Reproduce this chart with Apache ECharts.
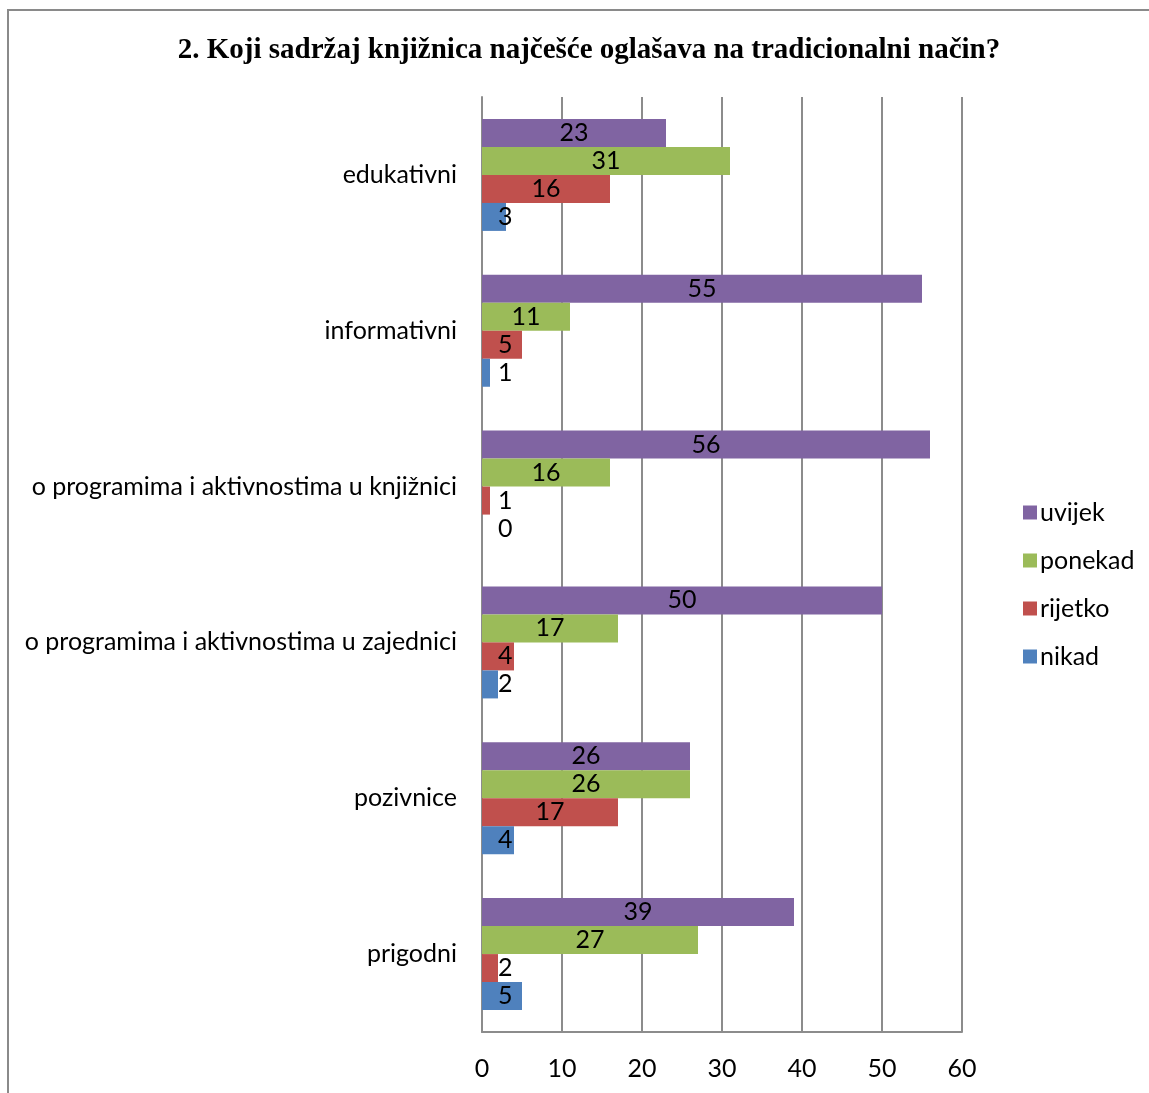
<!DOCTYPE html>
<html><head><meta charset="utf-8">
<script src="https://cdn.jsdelivr.net/npm/echarts@6/dist/echarts.min.js"></script>
<style>html,body{margin:0;padding:0;background:#fff}#c{width:1149px;height:1093px}</style>
</head><body><div id="c"></div>
<script>
var categories = ['edukativni','informativni','o programima i aktivnostima u knjižnici','o programima i aktivnostima u zajednici','pozivnice','prigodni'];
var seriesNames = ['uvijek','ponekad','rijetko','nikad'];
var uvijek = [23,55,56,50,26,39];
var ponekad = [31,11,16,17,26,27];
var rijetko = [16,5,1,4,17,2];
var nikad = [3,1,0,2,4,5];
var xTicks = [0,10,20,30,40,50,60];
var colors = ['#8064A2','#9BBB59','#C0504D','#4F81BD'];
var FONT = 'Lato';
var FS = 25;
function items(arr){
  return arr.map(function(v){
    if (v <= 5) return {value: v, label: {position: 'insideLeft', distance: 16}};
    return {value: v};
  });
}
var chart = echarts.init(document.getElementById('c'));
var data = [uvijek, ponekad, rijetko, nikad];
chart.setOption({
  animation: false,
  title: {text: '2. Koji sadržaj knjižnica najčešće oglašava na tradicionalni način?', left: 584, textAlign: 'center', top: 31,
    textStyle: {fontFamily: 'Liberation Serif', fontWeight: 'bold', fontSize: 29, color: '#000'}},
  graphic: [{type: 'rect', shape: {x: 8, y: 10, width: 1200, height: 1200}, style: {fill: 'none', stroke: '#8a8a8a', lineWidth: 2}, silent: true}],
  legend: {orient: 'vertical', left: 1018, top: 495, itemWidth: 14, itemHeight: 14, itemGap: 23,
    icon: 'rect', data: seriesNames,
    textStyle: {fontFamily: FONT, fontSize: FS, color: '#000', lineHeight: 25, padding: [0,0,0,-2]}},
  grid: {left: 482, top: 97, width: 480, height: 935, containLabel: false},
  xAxis: {type: 'value', min: 0, max: 60, interval: 10,
    axisLine: {show: true, lineStyle: {color: '#8c8c8c', width: 2}},
    axisTick: {show: false},
    axisLabel: {fontFamily: FONT, fontSize: FS, color: '#000', margin: 24, formatter: function(v){ return xTicks.indexOf(v) >= 0 ? String(v) : ''; }},
    splitLine: {show: true, lineStyle: {color: '#8c8c8c', width: 2}}},
  yAxis: {type: 'category', data: categories, inverse: true,
    axisLine: {show: true, lineStyle: {color: '#8c8c8c', width: 2}},
    axisTick: {show: false},
    axisLabel: {fontFamily: FONT, fontSize: FS, color: '#000', margin: 25}},
  series: seriesNames.map(function(n, i){
    return {name: n, type: 'bar', data: items(data[i]), barWidth: 28, barGap: '0%',
      itemStyle: {color: colors[i]},
      label: {show: true, position: 'inside', fontFamily: FONT, fontSize: FS, color: '#000'}};
  })
});
</script></body></html>
